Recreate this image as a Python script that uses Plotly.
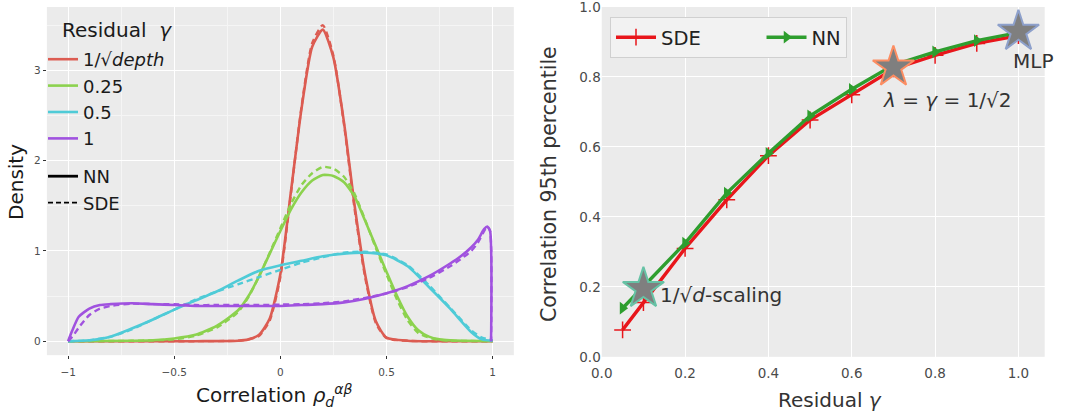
import plotly.graph_objects as go

# ---------------- Left panel data (density curves) ----------------
red_x = [-1.0, -0.4, -0.2, -0.15, -0.1, -0.05, 0.0, 0.05, 0.1, 0.15, 0.2, 0.25, 0.3, 0.35, 0.4, 0.45, 0.5, 0.6, 1.0]
red_nn = [0, 0, 0.005, 0.02, 0.07, 0.25, 0.74, 1.66, 2.58, 3.26, 3.45, 3.14, 2.42, 1.5, 0.73, 0.22, 0.04, 0.005, 0]
red_sde = [0, 0, 0.005, 0.02, 0.06, 0.23, 0.71, 1.64, 2.6, 3.3, 3.5, 3.16, 2.4, 1.46, 0.7, 0.2, 0.035, 0.004, 0]

grn_x = [-1.0, -0.7, -0.6, -0.5, -0.4, -0.3, -0.2, -0.15, -0.1, -0.05, 0.0, 0.05, 0.1, 0.15, 0.2, 0.25,
         0.3, 0.35, 0.4, 0.45, 0.5, 0.55, 0.6, 0.65, 0.7, 0.75, 0.8, 1.0]
grn_nn = [0, 0.005, 0.01, 0.03, 0.07, 0.17, 0.34, 0.5, 0.72, 0.97, 1.22, 1.46, 1.65, 1.78, 1.84, 1.83,
          1.76, 1.6, 1.33, 1.05, 0.77, 0.5, 0.27, 0.12, 0.05, 0.02, 0.01, 0]
grn_sde = [0, 0.004, 0.01, 0.02, 0.06, 0.15, 0.32, 0.49, 0.72, 0.98, 1.25, 1.52, 1.73, 1.86, 1.93, 1.91,
           1.82, 1.63, 1.34, 1.03, 0.74, 0.46, 0.23, 0.09, 0.04, 0.015, 0.005, 0]

cyn_x = [-1.0, -0.9, -0.8, -0.7, -0.6, -0.5, -0.4, -0.3, -0.2, -0.1, 0.0, 0.1, 0.2, 0.3, 0.4, 0.5,
         0.6, 0.7, 0.8, 0.9, 0.95, 1.0]
cyn_nn = [0, 0.01, 0.05, 0.14, 0.24, 0.35, 0.45, 0.55, 0.67, 0.78, 0.84, 0.89, 0.94, 0.97, 0.98, 0.95,
          0.83, 0.6, 0.36, 0.1, 0.02, 0.005]
cyn_sde = [0, 0.01, 0.05, 0.13, 0.24, 0.35, 0.46, 0.55, 0.63, 0.71, 0.79, 0.87, 0.93, 0.98, 0.99, 0.96,
           0.84, 0.62, 0.37, 0.12, 0.04, 0.01]

pur_x = [-1.0, -0.98, -0.95, -0.9, -0.85, -0.8, -0.7, -0.6, -0.5, -0.4, -0.3, -0.2, -0.1, 0.0, 0.1,
         0.2, 0.3, 0.4, 0.5, 0.6, 0.7, 0.8, 0.85, 0.9, 0.93, 0.96, 0.975, 0.988, 0.993]
pur_nn = [0, 0.12, 0.27, 0.36, 0.4, 0.41, 0.42, 0.41, 0.4, 0.39, 0.39, 0.39, 0.39, 0.39, 0.4,
          0.41, 0.43, 0.47, 0.53, 0.61, 0.72, 0.86, 0.94, 1.04, 1.12, 1.24, 1.27, 1.22, 0]
pur_sde = [0, 0.05, 0.15, 0.29, 0.36, 0.39, 0.415, 0.41, 0.41, 0.4, 0.4, 0.4, 0.4, 0.405, 0.41,
           0.42, 0.44, 0.48, 0.53, 0.6, 0.7, 0.83, 0.91, 1.0, 1.09, 1.22, 1.27, 1.22, 0]

left_names = ["1/√<i>depth</i>", "0.25", "0.5", "1"]
left_colors = ["#DC5C52", "#8CD24E", "#4FCBD7", "#A052DF"]
left_xticks = [-1, -0.5, 0, 0.5, 1]
left_xticktext = ["−1", "−0.5", "0", "0.5", "1"]
left_yticks = [0, 1, 2, 3]

# ---------------- Right panel data ----------------
gamma = [0.05, 0.1, 0.2, 0.3, 0.4, 0.5, 0.6, 0.7, 0.8, 0.9, 1.0]
sde_p95 = [0.077, 0.155, 0.31, 0.449, 0.575, 0.677, 0.749, 0.823, 0.862, 0.896, 0.918]
nn_p95 = [0.139, 0.2, 0.325, 0.468, 0.582, 0.689, 0.765, 0.834, 0.872, 0.904, 0.927]
star_x = [0.1, 0.7, 1.0]
star_y = [0.195, 0.828, 0.93]
star_edge = ["#66C2A5", "#FC8D62", "#8DA0CB"]
right_ticks = [0, 0.2, 0.4, 0.6, 0.8, 1.0]
right_ticktext = ["0.0", "0.2", "0.4", "0.6", "0.8", "1.0"]

FONT = "DejaVu Sans"
NB = "\u00a0"
fig = go.Figure()

series = [(red_x, red_nn, red_sde), (grn_x, grn_nn, grn_sde), (cyn_x, cyn_nn, cyn_sde), (pur_x, pur_nn, pur_sde)]
for (xs, nn, sde), name, col in zip(series, left_names, left_colors):
    fig.add_trace(go.Scatter(x=xs, y=nn, mode="lines", line=dict(color=col, width=2.6, shape="spline", smoothing=0.6),
                             name=name, legend="legend", xaxis="x", yaxis="y"))
    fig.add_trace(go.Scatter(x=xs, y=sde, mode="lines", line=dict(color=col, width=2.4, dash="6px,4px", shape="spline", smoothing=0.6),
                             showlegend=False, xaxis="x", yaxis="y"))

fig.add_trace(go.Scatter(x=[None], y=[None], mode="lines", line=dict(color="black", width=2.8), name="NN",
                         legend="legend2", xaxis="x", yaxis="y"))
fig.add_trace(go.Scatter(x=[None], y=[None], mode="lines", line=dict(color="black", width=1.6, dash="5px,3px"), name="SDE",
                         legend="legend2", xaxis="x", yaxis="y"))

# right panel
fig.add_trace(go.Scatter(x=gamma, y=sde_p95, mode="lines+markers", name="SDE" + NB * 9, legend="legend3",
                         line=dict(color="#E8161B", width=3.4),
                         marker=dict(symbol="cross-thin", size=12, line=dict(color="#E8161B", width=1.5)),
                         xaxis="x2", yaxis="y2"))
fig.add_trace(go.Scatter(x=gamma, y=nn_p95, mode="lines+markers", name="NN", legend="legend3",
                         line=dict(color="#2E9E2E", width=3.4),
                         marker=dict(symbol="triangle-right", size=11, color="#2E9E2E"),
                         xaxis="x2", yaxis="y2"))
fig.add_trace(go.Scatter(x=star_x, y=star_y, mode="markers", showlegend=False,
                         marker=dict(symbol="star", size=31, color="#7F7F7F", line=dict(color=star_edge, width=2)),
                         xaxis="x2", yaxis="y2"))

W, H = 1066, 413


def px(x):
    return x / W


def py(y):
    return 1 - y / H


tf_left = dict(family=FONT, size=10.5, color="#4D4D4D")
tf_right = dict(family=FONT, size=13.5, color="#4a4a4a")
fig.update_layout(
    width=W, height=H, margin=dict(l=0, r=0, t=0, b=0),
    paper_bgcolor="white", plot_bgcolor="#EBEBEB",
    font=dict(family=FONT, color="#1a1a1a"),
    xaxis=dict(domain=[0.044, 0.482], range=[-1.1, 1.1], tickvals=left_xticks,
               ticktext=left_xticktext, tickfont=tf_left, ticks="outside", ticklen=3, ticklabelstandoff=4,
               tickcolor="#333333", showgrid=True, gridcolor="white", gridwidth=1.2, zeroline=False,
               minor=dict(tickvals=[-0.75, -0.25, 0.25, 0.75], showgrid=True, gridcolor="#F5F5F5", gridwidth=0.6, ticks=""),
               anchor="y", automargin=False),
    yaxis=dict(domain=[0.140, 0.983], range=[-0.155, 3.7], tickvals=left_yticks, tickfont=tf_left,
               ticks="outside", ticklen=3, tickcolor="#333333", showgrid=True, gridcolor="white", gridwidth=1.2,
               zeroline=False,
               minor=dict(tickvals=[0.5, 1.5, 2.5, 3.5], showgrid=True, gridcolor="#F5F5F5", gridwidth=0.6, ticks=""),
               anchor="x", automargin=False),
    xaxis2=dict(domain=[0.5645, 0.980], range=[0, 1.063], tickvals=right_ticks,
                ticktext=right_ticktext, tickfont=tf_right, ticklabelstandoff=7,
                showgrid=True, gridcolor="white", gridwidth=1.2, zeroline=False, ticks="",
                anchor="y2", automargin=False),
    yaxis2=dict(domain=[0.136, 0.983], range=[0, 1], tickvals=right_ticks,
                ticktext=right_ticktext, tickfont=tf_right, ticklabeloverflow="allow",
                showgrid=True, gridcolor="white", gridwidth=1.2, zeroline=False, ticks="",
                anchor="x2", automargin=False),
    legend=dict(x=px(43), y=py(41), xanchor="left", yanchor="top", bgcolor="rgba(0,0,0,0)",
                font=dict(family=FONT, size=18, color="#1a1a1a"), tracegroupgap=0, itemwidth=30),
    legend2=dict(x=px(43), y=py(158), xanchor="left", yanchor="top", bgcolor="rgba(0,0,0,0)",
                 font=dict(family=FONT, size=18, color="#1a1a1a"), itemwidth=30),
    legend3=dict(x=px(610), y=py(17), xanchor="left", yanchor="top", orientation="h",
                 bgcolor="#F2F2F2", bordercolor="#D0D0D0", borderwidth=1,
                 font=dict(family=FONT, size=19.5, color="#222222"), itemwidth=40),
    annotations=[
        dict(x=px(60), y=py(30), xref="paper", yref="paper", text="Residual" + NB * 2 + "<i>γ</i>", showarrow=False,
             xanchor="left", yanchor="middle", font=dict(family=FONT, size=20, color="#1a1a1a")),
        dict(x=px(16), y=py(182), xref="paper", yref="paper", text="Density", textangle=-90, showarrow=False,
             xanchor="center", yanchor="middle", font=dict(family=FONT, size=20, color="#1a1a1a")),
        dict(x=px(274), y=py(395), xref="paper", yref="paper", text="Correlation <i>ρ</i><sub><i>d</i></sub><sup><i>αβ</i></sup>",
             showarrow=False, xanchor="center", yanchor="middle", font=dict(family=FONT, size=20, color="#1a1a1a")),
        dict(x=px(830), y=py(400), xref="paper", yref="paper", text="Residual <i>γ</i>", showarrow=False,
             xanchor="center", yanchor="middle", font=dict(family=FONT, size=20, color="#333333")),
        dict(x=px(549), y=py(184), xref="paper", yref="paper", text="Correlation 95th percentile", textangle=-90,
             showarrow=False, xanchor="center", yanchor="middle", font=dict(family=FONT, size=20.5, color="#333333")),
        dict(x=0.135, y=0.178, xref="x2", yref="y2", text="1/√<i>d</i>-scaling", showarrow=False,
             xanchor="left", yanchor="middle", font=dict(family=FONT, size=20, color="#333333")),
        dict(x=0.83, y=0.734, xref="x2", yref="y2", text="<i>λ</i> = <i>γ</i> = 1/√2", showarrow=False,
             xanchor="center", yanchor="middle", font=dict(family=FONT, size=20, color="#333333")),
        dict(x=0.982, y=0.845, xref="x2", yref="y2", text="MLP", showarrow=False,
             xanchor="left", yanchor="middle", font=dict(family=FONT, size=20, color="#333333")),
    ],
)

fig.write_html("out.html", config={"displayModeBar": False},
               post_script="document.body.style.margin='0px';")
